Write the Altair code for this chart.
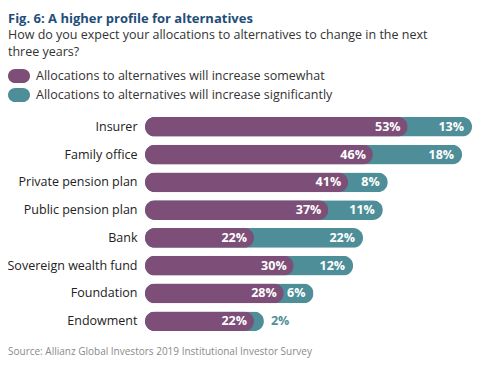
import altair as alt
import pandas as pd

categories = ["Insurer", "Family office", "Private pension plan", "Public pension plan",
              "Bank", "Sovereign wealth fund", "Foundation", "Endowment"]
somewhat = [53, 46, 41, 37, 22, 30, 28, 22]
significantly = [13, 18, 8, 11, 22, 12, 6, 2]
series = ["Allocations to alternatives will increase somewhat",
          "Allocations to alternatives will increase significantly"]

PURPLE = "#7d4e78"
TEAL = "#4e8e99"
FONT = "Open Sans"

df = pd.DataFrame({"cat": categories, "a": somewhat, "b": significantly})
df["total"] = df["a"] + df["b"]
df["la"] = df["a"].astype(str) + "%"
df["lb"] = df["b"].astype(str) + "%"
df["s1"] = series[0]
df["s2"] = series[1]

y = alt.Y("cat:N", sort=categories, title=None,
          scale=alt.Scale(paddingInner=0.29, paddingOuter=0.14),
          axis=alt.Axis(domain=False, ticks=False, labelPadding=8, labelFont=FONT,
                        labelFontSize=12.5, labelColor="#222222", labelLimit=200))
xs = alt.Scale(domain=[0, 66.6], nice=False)
cscale = alt.Scale(domain=series, range=[PURPLE, TEAL])
legend = alt.Legend(title=None, orient="none", legendX=-137, legendY=-48,
                    symbolType="M -0.36 -0.64 L 0.36 -0.64 A 0.64 0.64 0 0 1 0.36 0.64 L -0.36 0.64 A 0.64 0.64 0 0 1 -0.36 -0.64 Z",
                    symbolSize=484, symbolStrokeWidth=0, symbolOpacity=1,
                    labelFont=FONT, labelFontSize=12.5, labelColor="#333333",
                    rowPadding=0, labelOffset=6, labelLimit=400)

base = alt.Chart(df)
teal = base.mark_bar(cornerRadius=10).encode(
    x=alt.X("total:Q", scale=xs, axis=None), y=y,
    color=alt.Color("s2:N", scale=cscale, legend=legend))
purple = base.mark_bar(cornerRadius=10).encode(
    x=alt.X("a:Q", scale=xs, axis=None), y=y,
    color=alt.Color("s1:N", scale=cscale, legend=legend))

lab_a = base.mark_text(align="right", dx=-7, color="white", fontWeight="bold",
                       font=FONT, fontSize=12.5).encode(x="a:Q", y=y, text="la:N")
lab_b_in = base.transform_filter("datum.b >= 5").mark_text(
    align="right", dx=-8, color="white", fontWeight="bold", font=FONT, fontSize=12.5
).encode(x="total:Q", y=y, text="lb:N")
lab_b_out = base.transform_filter("datum.b < 5").mark_text(
    align="left", dx=7, color=TEAL, fontWeight="bold", font=FONT, fontSize=12.5
).encode(x="total:Q", y=y, text="lb:N")

source = alt.Chart(pd.DataFrame({"t": ["Source: Allianz Global Investors 2019 Institutional Investor Survey"]})).mark_text(
    align="left", baseline="middle", font=FONT, fontSize=10, color="#8a8a8a"
).encode(x=alt.value(-137), y=alt.value(239), text="t:N")

chart = alt.layer(teal, purple, lab_a, lab_b_in, lab_b_out, source).properties(
    width=330, height=222,
    autosize=alt.AutoSizeParams(type="none"),
    padding={"left": 137, "top": 105, "right": 0, "bottom": 27},
    title=alt.TitleParams(
        "Fig. 6: A higher profile for alternatives",
        subtitle=["How do you expect your allocations to alternatives to change in the next",
                  "three years?"],
        anchor="start", frame="group", dx=-137, offset=7,
        font=FONT, fontSize=13, fontWeight="bold", color="#1f4e79",
        subtitleFont=FONT, subtitleFontSize=12.5, subtitleColor="#333333",
        subtitlePadding=3, subtitleLineHeight=17),
).configure_view(stroke=None)

chart.save("out.html", embed_options={"renderer": "svg", "actions": False})
